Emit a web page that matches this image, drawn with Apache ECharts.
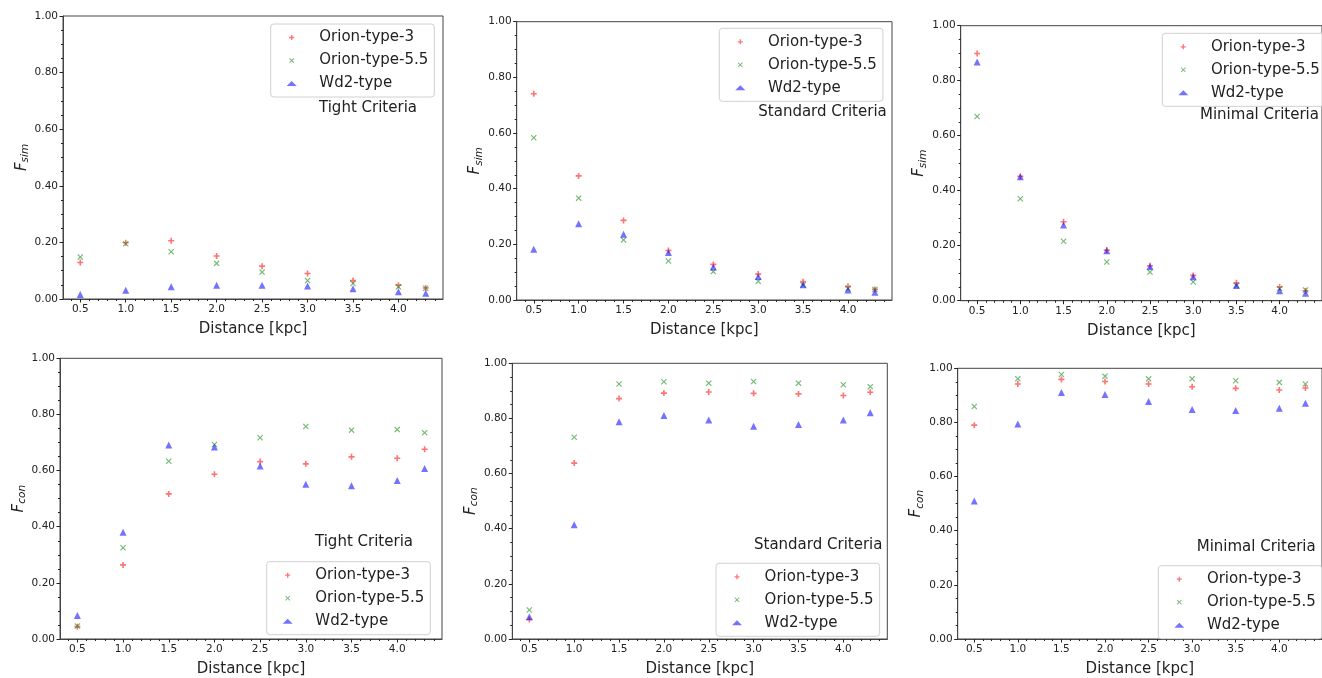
<!DOCTYPE html>
<html>
<head>
<meta charset="utf-8">
<script src="https://cdn.jsdelivr.net/npm/echarts@6/dist/echarts.min.js"></script>
<style>
  html, body { margin: 0; padding: 0; background: #fff; }
  #chart { width: 1322px; height: 678px; }
</style>
</head>
<body>
<div id="chart"></div>
<script>
// x positions of the simulated clusters
const distance = [0.5, 1.0, 1.5, 2.0, 2.5, 3.0, 3.5, 4.0, 4.3];
const seriesNames = ["Orion-type-3", "Orion-type-5.5", "Wd2-type"];
const xTickLabels = [0.5, 1.0, 1.5, 2.0, 2.5, 3.0, 3.5, 4.0];

// F_sim, tight / standard / minimal
const simTightO3 = [0.129, 0.199, 0.206, 0.152, 0.116, 0.090, 0.065, 0.049, 0.039];
const simTightO55 = [0.148, 0.195, 0.167, 0.126, 0.095, 0.065, 0.055, 0.043, 0.038];
const simTightWd2 = [0.016, 0.031, 0.043, 0.049, 0.049, 0.046, 0.036, 0.026, 0.020];

const simStdO3 = [0.741, 0.446, 0.286, 0.178, 0.128, 0.093, 0.066, 0.049, 0.038];
const simStdO55 = [0.583, 0.366, 0.216, 0.140, 0.102, 0.067, 0.054, 0.041, 0.038];
const simStdWd2 = [0.182, 0.274, 0.236, 0.171, 0.119, 0.084, 0.055, 0.036, 0.028];

const simMinO3 = [0.899, 0.452, 0.287, 0.184, 0.127, 0.092, 0.065, 0.050, 0.036];
const simMinO55 = [0.670, 0.371, 0.216, 0.141, 0.104, 0.068, 0.055, 0.044, 0.039];
const simMinWd2 = [0.868, 0.451, 0.275, 0.182, 0.124, 0.087, 0.055, 0.036, 0.027];

// F_con, tight / standard / minimal
const conTightO3 = [0.044, 0.264, 0.517, 0.587, 0.632, 0.624, 0.649, 0.644, 0.676];
const conTightO55 = [0.046, 0.325, 0.633, 0.693, 0.717, 0.757, 0.744, 0.746, 0.735];
const conTightWd2 = [0.084, 0.380, 0.691, 0.684, 0.616, 0.551, 0.546, 0.565, 0.607];

const conStdO3 = [0.071, 0.638, 0.872, 0.892, 0.896, 0.891, 0.889, 0.883, 0.895];
const conStdO55 = [0.105, 0.732, 0.925, 0.933, 0.928, 0.934, 0.928, 0.922, 0.915];
const conStdWd2 = [0.081, 0.414, 0.788, 0.811, 0.794, 0.772, 0.778, 0.794, 0.821];

const conMinO3 = [0.790, 0.942, 0.959, 0.951, 0.942, 0.932, 0.926, 0.920, 0.927];
const conMinO55 = [0.859, 0.961, 0.977, 0.971, 0.961, 0.961, 0.954, 0.948, 0.942];
const conMinWd2 = [0.510, 0.794, 0.911, 0.903, 0.877, 0.848, 0.844, 0.852, 0.871];

const FONT = "DejaVu Sans";
const INK = "#222";
const X_MIN = 0.31;
const X_MAX = 4.49;

const minorX = [];
for (let i = 4; i <= 44; i++) minorX.push(i / 10);

const panels = [
    { grid: { left: 63, top: 16, width: 380, height: 283 }, ylab: "sim", crit: "Tight Criteria",
      critPos: [319, 101], legPos: [270.7, 24], data: [simTightO3, simTightO55, simTightWd2] },
    { grid: { left: 516.7, top: 21.7, width: 375.3, height: 278.3 }, ylab: "sim", crit: "Standard Criteria",
      critPos: [758.3, 105], legPos: [719.3, 28.3], data: [simStdO3, simStdO55, simStdWd2] },
    { grid: { left: 960.7, top: 25.7, width: 370.3, height: 275 }, ylab: "sim", crit: "Minimal Criteria",
      critPos: [1200, 108], legPos: [1162.3, 33.3], data: [simMinO3, simMinO55, simMinWd2] },
    { grid: { left: 60, top: 358.3, width: 382, height: 282.7 }, ylab: "con", crit: "Tight Criteria",
      critPos: [315, 535], legPos: [266.7, 561.7], data: [conTightO3, conTightO55, conTightWd2] },
    { grid: { left: 512.3, top: 363.3, width: 375, height: 278.7 }, ylab: "con", crit: "Standard Criteria",
      critPos: [754, 537.7], legPos: [716, 563.3], data: [conStdO3, conStdO55, conStdWd2] },
    { grid: { left: 957.7, top: 368.3, width: 369.3, height: 274 }, ylab: "con", crit: "Minimal Criteria",
      critPos: [1196.7, 539.3], legPos: [1158.3, 565.7], data: [conMinO3, conMinO55, conMinWd2] },
];

// filled plus and thin "x" glyphs, drawn in a 6x6 box
const PLUS = "path://M2.2,0h1.6v2.2h2.2v1.6h-2.2v2.2h-1.6v-2.2h-2.2v-1.6h2.2z";
const CROSS = "path://M0,0.8L0.8,0L3,2.2L5.2,0L6,0.8L3.8,3L6,5.2L5.2,6L3,3.8L0.8,6L0,5.2L2.2,3z";
const markers = [
    { symbol: PLUS, size: 6, color: "#ff0000" },
    { symbol: CROSS, size: 6, color: "#008000" },
    { symbol: "triangle", size: 7, color: "#0000ff" },
];

const option = {
    animation: false,
    backgroundColor: "#fff",
    textStyle: { fontFamily: FONT },
    grid: [], xAxis: [], yAxis: [], series: [], legend: [], title: [],
};

panels.forEach((p, i) => {
    option.grid.push(Object.assign({ show: true, borderColor: "#444", borderWidth: 1, backgroundColor: "transparent" }, p.grid));

    option.xAxis.push({
        type: "value", gridIndex: i, min: X_MIN, max: X_MAX, position: "bottom",
        name: "Distance [kpc]", nameLocation: "middle", nameGap: 23,
        nameTextStyle: { fontFamily: FONT, fontSize: 15, color: INK },
        axisLine: { onZero: false, lineStyle: { color: "#444" } },
        axisTick: { show: true, length: 3.5, customValues: xTickLabels, lineStyle: { color: INK } },
        axisLabel: { customValues: xTickLabels, fontFamily: FONT, fontSize: 10.5, color: INK, margin: 5,
                     formatter: v => v.toFixed(1) },
        splitLine: { show: false },
    });
    option.xAxis.push({
        type: "value", gridIndex: i, min: X_MIN, max: X_MAX, position: "bottom",
        axisLine: { show: false },
        axisTick: { show: true, length: 2, customValues: minorX, lineStyle: { color: INK } },
        axisLabel: { show: false },
        splitLine: { show: false },
    });

    option.yAxis.push({
        type: "value", gridIndex: i, min: 0, max: 1, interval: 0.2,
        name: "{f|F}{s|" + p.ylab + "}", nameLocation: "middle", nameGap: 32, nameRotate: 90,
        nameTextStyle: {
            rich: {
                f: { fontFamily: FONT, fontStyle: "italic", fontSize: 15, color: INK },
                s: { fontFamily: FONT, fontStyle: "italic", fontSize: 10.5, color: INK, padding: [7, 0, 0, 0] },
            },
        },
        axisLine: { onZero: false, lineStyle: { color: "#444" } },
        axisTick: { show: true, length: 3.5, lineStyle: { color: INK } },
        minorTick: { show: true, splitNumber: 4, length: 2, lineStyle: { color: INK } },
        axisLabel: { fontFamily: FONT, fontSize: 10.5, color: INK, margin: 5, formatter: v => v.toFixed(2) },
        splitLine: { show: false },
        minorSplitLine: { show: false },
    });

    seriesNames.forEach((name, k) => {
        const m = markers[k];
        option.series.push({
            type: "scatter", name: name,
            xAxisIndex: 2 * i, yAxisIndex: i,
            symbol: m.symbol, symbolSize: m.size,
            itemStyle: { color: m.color, opacity: 0.55 },
            data: distance.map((d, j) => [d, p.data[k][j]]),
        });
    });

    option.legend.push({
        data: seriesNames, orient: "vertical",
        left: p.legPos[0], top: p.legPos[1],
        padding: [6, 6, 6, 16], itemGap: 8,
        itemWidth: 10, itemHeight: 5,
        borderColor: "#d0d0d0", borderWidth: 1, borderRadius: 3,
        backgroundColor: "rgba(255,255,255,0.8)",
        selectedMode: false,
        formatter: "{t|{name}}",
        textStyle: {
            rich: { t: { fontFamily: FONT, fontSize: 15, color: INK, lineHeight: 18, padding: [0, 0, 0, 17.6] } },
        },
    });

    option.title.push({
        text: p.crit, left: p.critPos[0], top: p.critPos[1], padding: 0,
        textStyle: { fontFamily: FONT, fontSize: 15, fontWeight: "normal", color: INK },
    });
});

const chart = echarts.init(document.getElementById("chart"), null, { renderer: "canvas" });
chart.setOption(option);
</script>
</body>
</html>
